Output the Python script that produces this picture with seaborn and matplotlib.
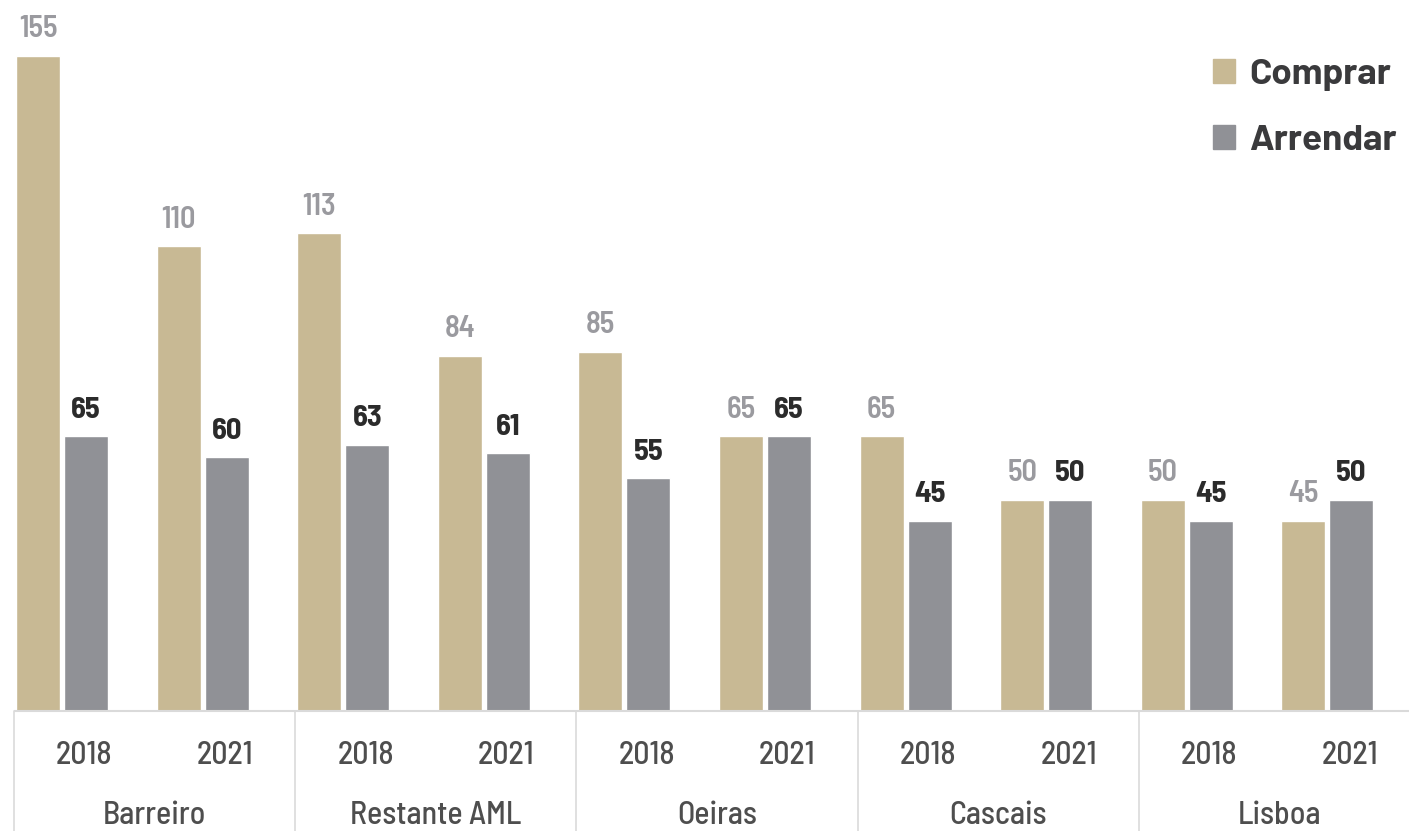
import matplotlib
matplotlib.use("Agg")
import matplotlib.pyplot as plt
from matplotlib.patches import Patch
import seaborn as sns
import pandas as pd

# Esforço (meses de rendimento) para comprar / arrendar casa
regioes = ["Barreiro", "Restante AML", "Oeiras", "Cascais", "Lisboa"]
anos = ["2018", "2021"]
comprar = [155, 110, 113, 84, 85, 65, 65, 50, 50, 45]
arrendar = [65, 60, 63, 61, 55, 65, 45, 50, 45, 50]
tipos = ["Comprar", "Arrendar"]

cor_comprar = "#C8B994"
cor_arrendar = "#909196"

slots = [f"{r} {a}" for r in regioes for a in anos]
df = pd.DataFrame({
    "slot": slots * 2,
    "tipo": [tipos[0]] * len(slots) + [tipos[1]] * len(slots),
    "valor": comprar + arrendar,
})

sns.set_theme(style="white")
plt.rcParams["font.family"] = ["Barlow Semi Condensed", "DejaVu Sans"]

fig = plt.figure(figsize=(14.09, 8.31), dpi=100)
ax = fig.add_axes([0, 0, 1, 1])

sns.barplot(data=df, x="slot", y="valor", hue="tipo", order=slots,
            hue_order=tipos, palette=[cor_comprar, cor_arrendar],
            width=0.683, gap=0.083, saturation=1, ax=ax, legend=False)

# scale: one slot = 140.6 px, one unit of value = 4.226 px
ax.set_xlim(-0.4416, 9.580)
ax.set_ylim(-28.4, 168.2)
ax.set_axis_off()

# value labels
ax.bar_label(ax.containers[0], padding=9, fontsize=22, fontweight=600,
             color="#9A9A9F")
ax.bar_label(ax.containers[1], padding=9, fontsize=22, fontweight="bold",
             color="#2B2B2B")

# baseline and region separators
half = 0.683 / 2
ax.plot([-half, 9.580], [0, 0], color="#DADADA", lw=1.5, solid_capstyle="butt")
for k in range(len(regioes)):
    x0 = 2 * k - half
    ax.plot([x0, x0], [0, -28.4], color="#DADADA", lw=1.2)

# year and region labels
for i, s in enumerate(slots):
    ax.text(i - half + 0.5, -10.6, anos[i % 2], ha="center", va="center",
            fontsize=23, fontweight=500, color="#4E4E4E")
for k, r in enumerate(regioes):
    ax.text(2 * k - half + 1.0, -24.8, r, ha="center", va="center",
            fontsize=23, fontweight=500, color="#4E4E4E")

# legend
handles = [Patch(color=cor_comprar), Patch(color=cor_arrendar)]
leg = ax.legend(handles, tipos, loc="upper right",
                bbox_to_anchor=(1397 / 1409, 1 - 59 / 831),
                bbox_transform=fig.transFigure, frameon=False,
                handlelength=0.6, handleheight=0.6, handletextpad=0.38,
                labelspacing=0.92, borderpad=0, borderaxespad=0,
                prop={"family": ["Barlow", "DejaVu Sans"],
                      "weight": "bold", "size": 26.5})
for t in leg.get_texts():
    t.set_color("#3A3A3C")

fig.savefig("out.png", dpi=100)
